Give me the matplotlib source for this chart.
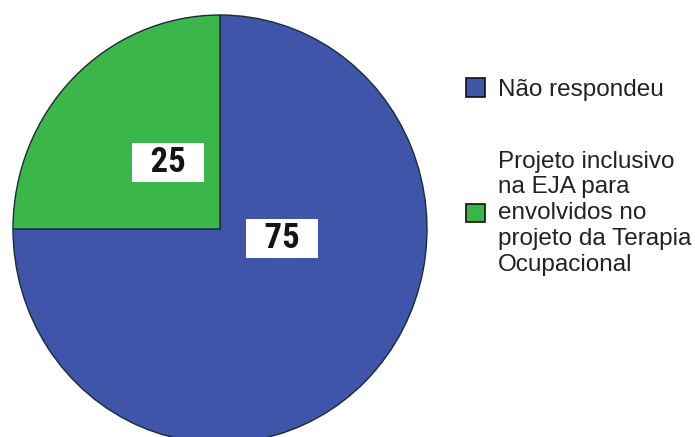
"""Pie chart: Projeto inclusivo na EJA (recreation)."""

import matplotlib
matplotlib.use("Agg")
import matplotlib.pyplot as plt
from matplotlib import font_manager

# --- Data ---
labels = [
    "Não respondeu",
    "Projeto inclusivo\nna EJA para\nenvolvidos no\nprojeto da Terapia\nOcupacional",
]
values = [75, 25]
colors = ["#3f55aa", "#3bb64a"]
value_text = ["75", "25"]
label_pos = [(0.30, -0.045), (-0.25, 0.31)]  # where SPSS put the boxes

# --- Style ---
plt.rcParams.update({
    "font.family": ["Liberation Sans", "DejaVu Sans"],
    "figure.dpi": 100,
})

# narrow font for the value boxes, if there is one
fonts = font_manager.fontManager.ttflist
names = {f.name for f in fonts}
num_kw = dict(family="DejaVu Sans", fontstretch="condensed", fontweight="bold")
for cand in ["Liberation Sans Narrow", "Roboto Condensed", "Open Sans Condensed"]:
    if cand in names:
        num_kw = dict(family=cand, fontweight="bold")
        break

W, H = 695, 437
fig = plt.figure(figsize=(W / 100, H / 100), dpi=100)
fig.patch.set_facecolor("white")

# pie is slightly stretched vertically and runs off the bottom edge
left, right, top, bottom = 13, 427, 15, 443
ax = fig.add_axes([left / W, 1 - bottom / H, (right - left) / W, (bottom - top) / H])
wedges, _ = ax.pie(
    values, colors=colors, startangle=90, counterclock=False,
    wedgeprops=dict(edgecolor="#1c2a3a", linewidth=1.0),
)
ax.set_aspect("auto")
ax.set_xlim(-1, 1)
ax.set_ylim(-1, 1)
ax.axis("off")

for (x, y), t in zip(label_pos, value_text):
    ax.text(x, y, "\u2002" + t + "\u2002", ha="center", va="center", fontsize=25,
            color="#151515", **num_kw,
            bbox=dict(boxstyle="square,pad=0.08", facecolor="white", edgecolor="none"))

leg = fig.legend(
    wedges, labels, loc="upper left", bbox_to_anchor=(466 / W, 1 - 78 / H),
    frameon=False, fontsize=17.5, handlelength=0.8, handleheight=0.8,
    handletextpad=0.5, labelspacing=2.05, borderpad=0, borderaxespad=0,
)
for txt in leg.get_texts():
    txt.set_color("#222222")
    txt.set_linespacing(1.22)
for h in leg.legend_handles:
    h.set_edgecolor("#111111")
    h.set_linewidth(1.2)

fig.savefig("out.png", dpi=100, facecolor="white")
